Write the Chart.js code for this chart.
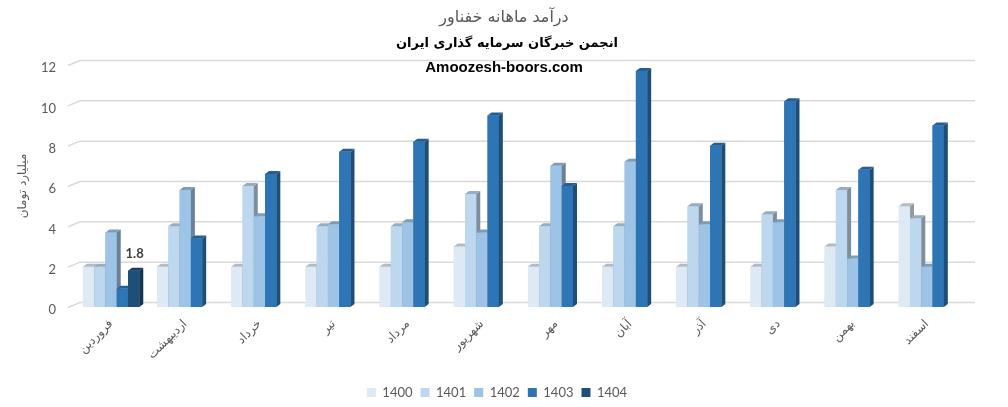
<!DOCTYPE html>
<html>
<head>
<meta charset="utf-8">
<title>درآمد ماهانه خفناور</title>
<script src="https://cdn.jsdelivr.net/npm/chart.js@4.4.1/dist/chart.umd.min.js"></script>
<style>
  html, body { margin: 0; padding: 0; background: #ffffff; }
  #chart { display: block; }
</style>
</head>
<body>
<canvas id="chart" width="1008" height="407"></canvas>
<script>
// Months (x categories) and yearly series
const months = ["فروردین", "اردیبهشت", "خرداد", "تیر", "مرداد", "شهریور", "مهر", "آبان", "آذر", "دی", "بهمن", "اسفند"];
const years = ["1400", "1401", "1402", "1403", "1404"];

const rev1400 = [2, 2, 2, 2, 2, 3, 2, 2, 2, 2, 3, 5];
const rev1401 = [2, 4, 6, 4, 4, 5.6, 4, 4, 5, 4.6, 5.8, 4.4];
const rev1402 = [3.7, 5.8, 4.5, 4.1, 4.2, 3.7, 7, 7.2, 4.1, 4.2, 2.4, 2];
const rev1403 = [0.9, 3.4, 6.6, 7.7, 8.2, 9.5, 6, 11.7, 8, 10.2, 6.8, 9];
const rev1404 = [1.8, null, null, null, null, null, null, null, null, null, null, null];

const yTicks = [0, 2, 4, 6, 8, 10, 12];

const colors = ["#dee9f6", "#bdd7ee", "#9dc3e6", "#2e75b6", "#1f4e79"];

// darken a hex colour by a factor
function shade(hex, f) {
  const n = parseInt(hex.slice(1), 16);
  const r = Math.round(((n >> 16) & 255) * f);
  const g = Math.round(((n >> 8) & 255) * f);
  const b = Math.round((n & 255) * f);
  return `rgb(${r}, ${g}, ${b})`;
}

const DEPTH_X = 4;
const DEPTH_Y = 3;

// Redraw every bar left to right with its side and top face,
// so each bar's front covers the side of the bar before it
const bars3d = {
  id: "bars3d",
  afterDatasetsDraw(chart) {
    const ctx = chart.ctx;
    const datasets = chart.data.datasets;
    ctx.save();
    months.forEach((m, i) => {
      datasets.forEach((ds, d) => {
        const value = ds.data[i];
        if (value === null || value === undefined) return;
        const bar = chart.getDatasetMeta(d).data[i];
        const { x, y, base: b, width } = bar.getProps(["x", "y", "base", "width"], true);
        const l = x - width / 2;
        const r = x + width / 2;
        // front
        ctx.fillStyle = colors[d];
        ctx.fillRect(l, y, width, b - y);
        // side
        ctx.fillStyle = shade(colors[d], 0.66);
        ctx.beginPath();
        ctx.moveTo(r, y);
        ctx.lineTo(r + DEPTH_X, y - DEPTH_Y);
        ctx.lineTo(r + DEPTH_X, b - DEPTH_Y);
        ctx.lineTo(r, b);
        ctx.closePath();
        ctx.fill();
        // top
        ctx.fillStyle = shade(colors[d], 0.8);
        ctx.beginPath();
        ctx.moveTo(l, y);
        ctx.lineTo(l + DEPTH_X, y - DEPTH_Y);
        ctx.lineTo(r + DEPTH_X, y - DEPTH_Y);
        ctx.lineTo(r, y);
        ctx.closePath();
        ctx.fill();
      });
    });
    ctx.restore();
  },
};

// Back wall gridlines with the little slanted piece on the left
const backWall = {
  id: "backWall",
  beforeDatasetsDraw(chart) {
    const ctx = chart.ctx;
    const area = chart.chartArea;
    const yScale = chart.scales.y;
    ctx.save();
    ctx.strokeStyle = "#d9d9d9";
    ctx.lineWidth = 1.5;
    yTicks.forEach((v) => {
      const yb = yScale.getPixelForValue(v) - 4.5;
      ctx.beginPath();
      ctx.moveTo(area.left - 6, yb + 5);
      ctx.lineTo(area.left + 6, yb);
      ctx.lineTo(area.right + 11, yb);
      ctx.stroke();
    });
    ctx.restore();
  },
};

// Nudge the legend to where it sits in the original
const legendShift = {
  id: "legendShift",
  afterLayout(chart) {
    const lg = chart.legend;
    if (!lg) return;
    lg.left += 15;
    lg.right += 15;
    lg.top += 2;
    lg.bottom += 2;
  },
};

// Titles, site name and the single data label
const texts = {
  id: "texts",
  afterDraw(chart) {
    const ctx = chart.ctx;
    ctx.save();
    ctx.textAlign = "center";
    ctx.textBaseline = "middle";

    ctx.fillStyle = "#595959";
    ctx.font = "16px 'DejaVu Sans'";
    ctx.fillText("درآمد ماهانه خفناور", 504, 18);

    ctx.fillStyle = "#000000";
    ctx.font = "bold 13px 'DejaVu Sans'";
    ctx.fillText("انجمن خبرگان سرمایه گذاری ایران", 507, 44);

    ctx.font = "bold 15px 'Liberation Sans'";
    ctx.fillText("Amoozesh-boors.com", 504, 68);

    // value label on the 1404 bar
    const bar = chart.getDatasetMeta(4).data[0];
    ctx.fillStyle = "#404040";
    ctx.font = "bold 13px Lato";
    ctx.fillText(String(rev1404[0]), bar.x + 1, bar.y - 17);
    ctx.restore();
  },
};

const seriesValues = [rev1400, rev1401, rev1402, rev1403, rev1404];

function initChart() {
  const ctx = document.getElementById("chart").getContext("2d");
  window.revenueChart = new Chart(ctx, {
    type: "bar",
    data: {
      labels: months,
      datasets: years.map((year, i) => ({
        label: year,
        data: seriesValues[i],
        backgroundColor: colors[i],
        borderWidth: 0,
        categoryPercentage: 0.76,
        barPercentage: 1.0,
      })),
    },
    options: {
      responsive: false,
      animation: false,
      layout: {
        padding: { top: 65, left: 0, right: 44, bottom: 0 },
      },
      scales: {
        x: {
          grid: { display: false },
          border: { display: false },
          ticks: {
            autoSkip: false,
            minRotation: 45,
            maxRotation: 45,
            color: "#595959",
            font: { family: "'DejaVu Sans'", size: 12 },
            padding: 2,
          },
          afterFit: (scale) => {
            scale.height = 69;
          },
        },
        y: {
          min: 0,
          max: 12,
          grid: { display: false },
          border: { display: false },
          ticks: {
            stepSize: 2,
            color: "#595959",
            font: { family: "Lato", size: 13 },
            padding: 10,
            labelOffset: 3,
          },
          title: {
            display: true,
            text: "میلیارد تومان",
            color: "#595959",
            font: { family: "'DejaVu Sans'", size: 12 },
            padding: { top: 16, bottom: 0 },
          },
          afterFit: (scale) => {
            scale.width = 74;
          },
        },
      },
      plugins: {
        legend: {
          position: "bottom",
          labels: {
            boxWidth: 9,
            boxHeight: 9,
            color: "#595959",
            font: { family: "Lato", size: 13 },
            padding: 8,
          },
        },
        tooltip: { enabled: false },
      },
    },
    plugins: [backWall, bars3d, legendShift, texts],
  });
}

initChart();
</script>
</body>
</html>
